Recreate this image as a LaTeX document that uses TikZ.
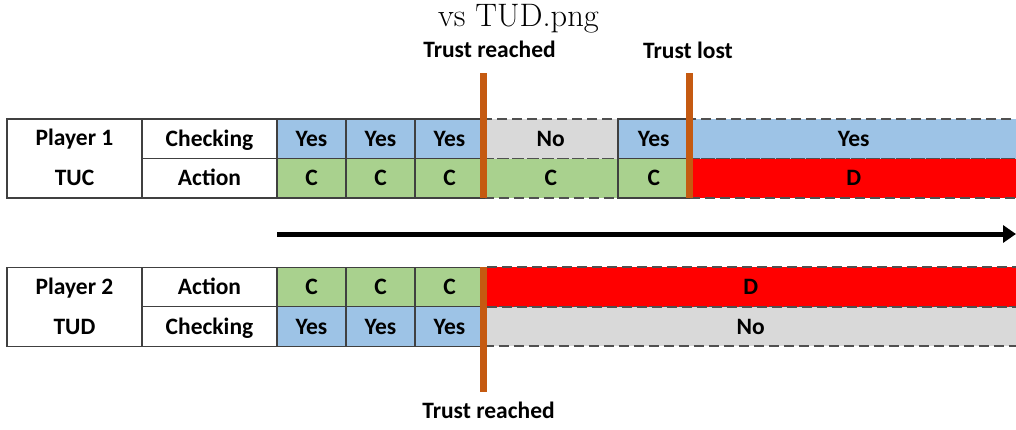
\documentclass[tikz,border=0pt]{standalone}
\usepackage{fontspec}
\newfontfamily\carlito{Carlito}
\usetikzlibrary{arrows.meta}
\definecolor{chkblue}{HTML}{9DC3E6}
\definecolor{actgreen}{HTML}{A9D18E}
\definecolor{offgrey}{HTML}{D9D9D9}
\definecolor{defred}{HTML}{FF0000}
\definecolor{trustorange}{HTML}{C55A11}
\definecolor{edgegrey}{HTML}{404040}
\definecolor{dashgrey}{HTML}{505050}
\begin{document}
\begin{tikzpicture}[x=1pt,y=-1pt,
  lbl/.style={font=\carlito\bfseries\fontsize{23.5}{28}\selectfont, inner sep=0pt},
  cell/.style={lbl, draw=edgegrey, line width=1.2pt, minimum height=39.5pt,
    text height=15pt, text depth=0pt},
  dcell/.style={cell, draw=dashgrey, line width=1.7pt, dash pattern=on 10pt off 5pt},
  yes/.style={fill=chkblue},
  coop/.style={fill=actgreen},
  nocheck/.style={fill=offgrey},
  defect/.style={fill=defred},
  trust/.style={draw=trustorange, line width=7pt},
  timeline/.style={line width=5pt, -{Triangle[length=13pt,width=17pt]}}
]
\clip (0,0) rectangle (1016,429);

% caption fragment
\node[anchor=base, inner sep=0pt, font=\fontsize{32.5}{38}\selectfont] (title) at (518.5,26) {vs TUD.png};

% ---------- Player 1 (TUC) ----------
\node[cell, minimum width=135pt, minimum height=79pt] (p1) at (74.5,158.5) {};
\node[lbl, anchor=base] (p1name) at (74.5,145) {Player 1};
\node[lbl, anchor=base] (p1type) at (74.5,185) {TUC};
\node[cell, minimum width=135pt] (p1chk) at (209.5,138.75) {Checking};
\node[cell, minimum width=135pt] (p1act) at (209.5,178.25) {Action};

\node[dcell, nocheck, minimum width=134.5pt] (p1c4) at (550.75,138.75) {No};
\node[dcell, coop, minimum width=134.5pt] (p1a4) at (550.75,178.25) {C};
\node[dcell, yes, minimum width=328.5pt] (p1c6) at (853.75,138.75) {Yes};
\node[dcell, defect, minimum width=328.5pt] (p1a6) at (853.75,178.25) {D};

\node[cell, yes, minimum width=69pt] (p1c1) at (311.5,138.75) {Yes};
\node[cell, yes, minimum width=69pt] (p1c2) at (380.5,138.75) {Yes};
\node[cell, yes, minimum width=69pt] (p1c3) at (449.5,138.75) {Yes};
\node[cell, coop, minimum width=69pt] (p1a1) at (311.5,178.25) {C};
\node[cell, coop, minimum width=69pt] (p1a2) at (380.5,178.25) {C};
\node[cell, coop, minimum width=69pt] (p1a3) at (449.5,178.25) {C};
\node[cell, yes, minimum width=71.5pt] (p1c5) at (653.75,138.75) {Yes};
\node[cell, coop, minimum width=71.5pt] (p1a5) at (653.75,178.25) {C};

% ---------- time axis ----------
\coordinate (tstart) at (277,234);
\coordinate (tend) at (1016,234);
\draw[timeline] (tstart) -- (tend);

% ---------- Player 2 (TUD) ----------
\node[cell, minimum width=135pt, minimum height=79pt] (p2) at (74.5,306.75) {};
\node[lbl, anchor=base] (p2name) at (74.5,294) {Player 2};
\node[lbl, anchor=base] (p2type) at (74.5,334) {TUD};
\node[cell, minimum width=135pt] (p2act) at (209.5,287) {Action};
\node[cell, minimum width=135pt] (p2chk) at (209.5,326.5) {Checking};

\node[dcell, defect, minimum width=534.5pt] (p2a4) at (750.75,287) {D};
\node[dcell, nocheck, minimum width=534.5pt] (p2c4) at (750.75,326.5) {No};

\node[cell, coop, minimum width=69pt] (p2a1) at (311.5,287) {C};
\node[cell, coop, minimum width=69pt] (p2a2) at (380.5,287) {C};
\node[cell, coop, minimum width=69pt] (p2a3) at (449.5,287) {C};
\node[cell, yes, minimum width=69pt] (p2c1) at (311.5,326.5) {Yes};
\node[cell, yes, minimum width=69pt] (p2c2) at (380.5,326.5) {Yes};
\node[cell, yes, minimum width=69pt] (p2c3) at (449.5,326.5) {Yes};

% ---------- trust markers ----------
\coordinate (m1top) at (483.5,73);
\coordinate (m1bot) at (483.5,198);
\coordinate (m2top) at (689.5,73);
\coordinate (m2bot) at (689.5,198);
\coordinate (m3top) at (483.5,267);
\coordinate (m3bot) at (483.5,392);
\draw[trust] (m1top) -- (m1bot);
\draw[trust] (m2top) -- (m2bot);
\draw[trust] (m3top) -- (m3bot);

\node[lbl, anchor=base] (reach1) at (489.5,57) {Trust reached};
\node[lbl, anchor=base] (lost1) at (688,58) {Trust lost};
\node[lbl, anchor=base] (reach2) at (488.5,418) {Trust reached};
\end{tikzpicture}
\end{document}
